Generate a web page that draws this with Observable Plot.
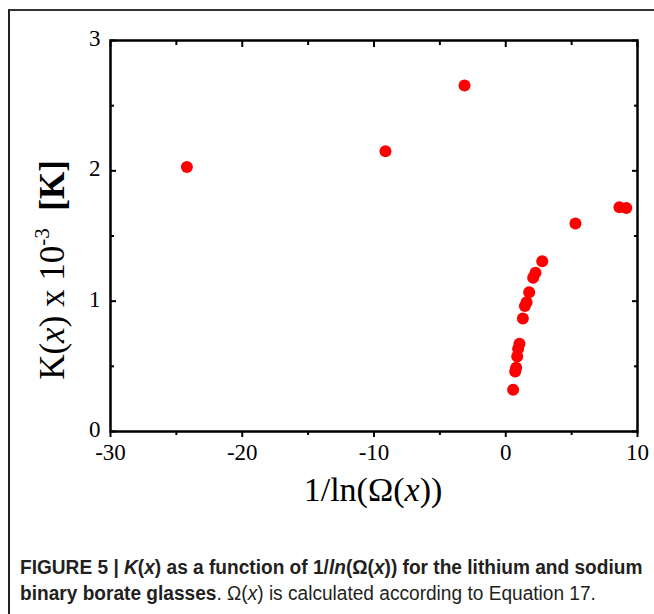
<!DOCTYPE html>
<html><head><meta charset="utf-8">
<script src="https://cdn.jsdelivr.net/npm/d3@7"></script>
<script src="https://cdn.jsdelivr.net/npm/@observablehq/plot@0.6"></script>
<style>
body{margin:0;background:#fff;}
#wrap{position:relative;width:654px;height:614px;overflow:hidden;background:#fff;}
#border{position:absolute;left:8px;top:9px;width:700px;height:700px;border-left:2px solid #222;border-top:2px solid #333;}
#chart{position:absolute;left:0;top:0;}
#caption{position:absolute;left:20px;top:554px;font-family:"Liberation Sans","Arial",sans-serif;font-size:20px;line-height:26px;color:#231f20;white-space:nowrap;transform:scaleX(0.955);transform-origin:0 0;}
</style></head><body>
<div id="wrap"><div id="border"></div><div id="chart"></div>
<div id="caption"><b>FIGURE 5 | <i>K</i>(<i>x</i>) as a function of 1/<i>ln</i>(Ω(<i>x</i>)) for the lithium and sodium<br>binary borate glasses</b>. Ω(<i>x</i>) is calculated according to Equation 17.</div>
</div>
<script>
const xValues = [-24.2, -9.13, -3.13, 0.56, 0.72, 0.79, 0.87, 0.94, 1.04, 1.30, 1.45, 1.58, 1.78, 2.08, 2.26, 2.77, 5.29, 8.63, 9.15];
const yValues = [2.03, 2.15, 2.655, 0.32, 0.46, 0.49, 0.576, 0.635, 0.673, 0.867, 0.962, 0.992, 1.069, 1.18, 1.218, 1.307, 1.596, 1.72, 1.715];
const xMajorTicks = [-30, -20, -10, 0, 10];
const xMinorTicks = [-25, -15, -5, 5];
const yMajorTicks = [0, 1, 2, 3];
const yMinorTicks = [0.5, 1.5, 2.5];

const points = xValues.map((x, i) => ({x, y: yValues[i]}));
const serif = "'Liberation Serif','Times New Roman',serif";
const plain = d => String(d);

const chart = Plot.plot({
  width: 654, height: 520,
  marginLeft: 110, marginRight: 17, marginTop: 40, marginBottom: 89,
  style: {fontFamily: serif, fontSize: "23px", color: "#000", background: "transparent"},
  x: {domain: [-30, 10]},
  y: {domain: [0, 3]},
  marks: [
    Plot.axisX(xMajorTicks, {anchor: "bottom", tickSize: 6, tickPadding: 6, strokeWidth: 2, label: null, fontSize: 23, tickFormat: plain}),
    Plot.axisX(xMinorTicks, {anchor: "bottom", tickSize: 4, strokeWidth: 2, tickFormat: () => "", label: null}),
    Plot.axisX(xMajorTicks, {anchor: "top", tickSize: -6, strokeWidth: 2, tickFormat: () => "", label: null}),
    Plot.axisX(xMinorTicks, {anchor: "top", tickSize: -4, strokeWidth: 2, tickFormat: () => "", label: null}),
    Plot.axisY(yMajorTicks, {anchor: "left", tickSize: 0, tickPadding: 10, label: null, fontSize: 23, dy: -2, tickFormat: plain}),
    Plot.axisY(yMajorTicks, {anchor: "left", tickSize: -6, strokeWidth: 2, tickFormat: () => "", label: null}),
    Plot.axisY(yMinorTicks, {anchor: "left", tickSize: -4, strokeWidth: 2, tickFormat: () => "", label: null}),
    Plot.axisY(yMajorTicks, {anchor: "right", tickSize: -6, strokeWidth: 2, tickFormat: () => "", label: null}),
    Plot.axisY(yMinorTicks, {anchor: "right", tickSize: -4, strokeWidth: 2, tickFormat: () => "", label: null}),
    Plot.frame({stroke: "#000", strokeWidth: 2.5}),
    Plot.dot(points, {x: "x", y: "y", r: 6, fill: "#ff0000", stroke: "none"})
  ]
});
document.getElementById("chart").appendChild(chart);

const svg = d3.select(chart);
// x title
const xt = svg.append("text").attr("x", 373).attr("y", 501).attr("text-anchor", "middle")
  .attr("font-family", serif).attr("font-size", 34).attr("fill", "#000");
xt.append("tspan").text("1/ln(Ω(");
xt.append("tspan").attr("font-style", "italic").text("x");
xt.append("tspan").text("))");
// y title
const yt = svg.append("text").attr("transform", "translate(64,270) rotate(-90)").attr("text-anchor", "middle")
  .attr("font-family", serif).attr("font-size", 35).attr("fill", "#000");
yt.append("tspan").text("K(");
yt.append("tspan").attr("font-style", "italic").text("x");
yt.append("tspan").text(") x 10");
yt.append("tspan").attr("font-size", 21).attr("dy", -15).text("-3");
yt.append("tspan").attr("dy", 15).text("\u00a0\u00a0");
yt.append("tspan").attr("font-weight", "bold").text("[K]");
</script>
</body></html>
